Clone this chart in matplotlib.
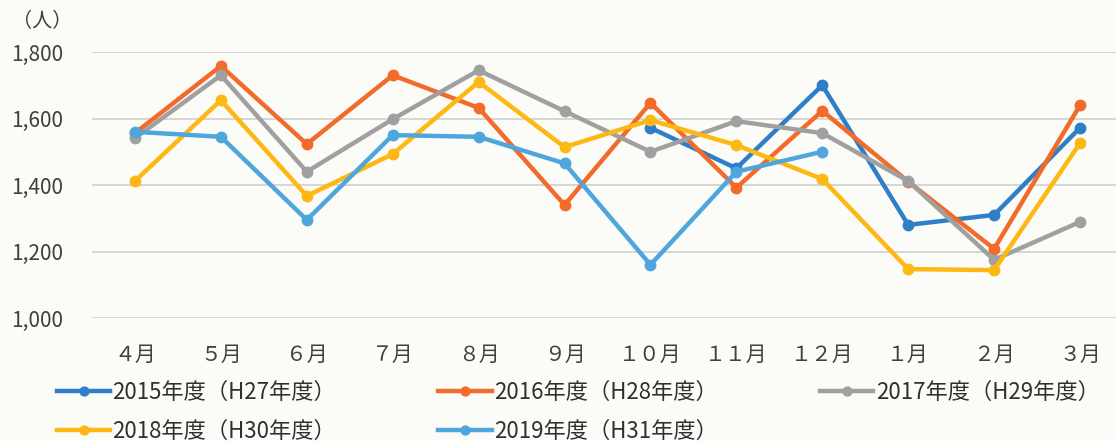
import matplotlib
matplotlib.use("Agg")
import matplotlib.pyplot as plt
import numpy as np

plt.rcParams['font.family'] = ['Noto Sans CJK JP', 'DejaVu Sans']

# データ
months = ['４月', '５月', '６月', '７月', '８月', '９月', '１０月', '１１月', '１２月', '１月', '２月', '３月']
y2015 = [None, None, None, None, None, None, 1572, 1450, 1700, 1280, 1310, 1572]
y2016 = [1556, 1758, 1523, 1730, 1632, 1340, 1647, 1392, 1623, 1410, 1208, 1640]
y2017 = [1541, 1730, 1440, 1598, 1745, 1622, 1500, 1592, 1556, 1412, 1175, 1289]
y2018 = [1412, 1655, 1367, 1493, 1710, 1514, 1595, 1520, 1418, 1147, 1144, 1526]
y2019 = [1560, 1545, 1295, 1550, 1545, 1465, 1160, 1440, 1500, None, None, None]
labels = ['2015年度（H27年度）', '2016年度（H28年度）', '2017年度（H29年度）',
          '2018年度（H30年度）', '2019年度（H31年度）']
colors = ['#2F7EC8', '#F26B2A', '#A0A0A0', '#FDB813', '#4FA6DC']

fig = plt.figure(figsize=(11.16, 4.41), dpi=100)
fig.patch.set_facecolor('#FBFBF8')
ax = fig.add_axes([92 / 1116, 1 - 318 / 441, 1031 / 1116, 266 / 441])
ax.set_facecolor('#FBFBF8')

x = np.arange(len(months))
lines = []
for vals, lab, c in zip([y2015, y2016, y2017, y2018, y2019], labels, colors):
    v = np.array([np.nan if a is None else a for a in vals], dtype=float)
    ln, = ax.plot(x, v, color=c, lw=3.2, marker='o', ms=7.5, label=lab, zorder=3)
    lines.append(ln)

ax.set_xlim(-0.5, 11.5)
ax.set_ylim(1000, 1800)
ax.set_yticks([1000, 1200, 1400, 1600, 1800])
ax.set_yticklabels(['{:,}'.format(t) for t in [1000, 1200, 1400, 1600, 1800]])
ax.set_xticks(x)
ax.set_xticklabels(months)
ax.grid(axis='y', color='#CFCFCF', lw=1.2)
ax.set_axisbelow(True)
for s in ax.spines.values():
    s.set_visible(False)
ax.tick_params(length=0, labelsize=15, colors='#404040')
ax.tick_params(axis='x', pad=19)
ax.tick_params(axis='y', pad=21)

fig.text(12 / 1116, 1 - 22 / 441, '（人）', fontsize=14.5, color='#404040', va='center')

order = [0, 3, 1, 4, 2]
fig.legend([lines[i] for i in order], [labels[i] for i in order],
           ncol=3, loc='upper left', bbox_to_anchor=(48 / 1116, 1 - 372 / 441),
           frameon=False, fontsize=16, handlelength=2.4, handletextpad=0.1,
           columnspacing=4.6, labelspacing=0.7, labelcolor='#303030',
           borderaxespad=0, markerscale=0.85)

fig.savefig('out.png', dpi=100, facecolor=fig.get_facecolor())
